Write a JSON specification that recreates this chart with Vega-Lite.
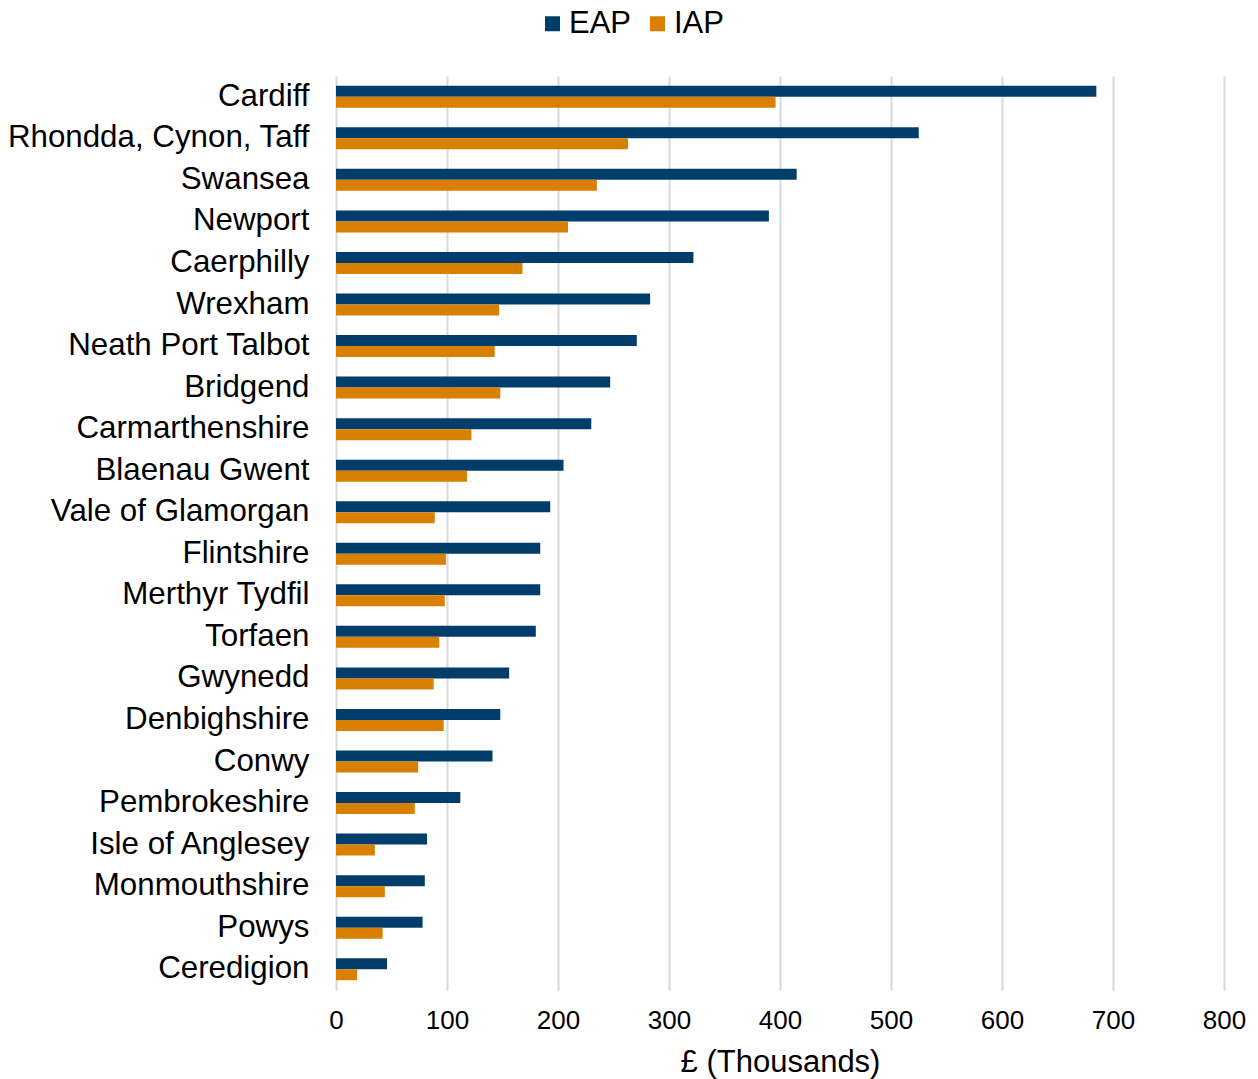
{
  "$schema": "https://vega.github.io/schema/vega-lite/v6.json",
  "width": 888,
  "height": 914,
  "autosize": {"type": "none"},
  "padding": {"left": 336, "top": 76, "right": 34, "bottom": 89},
  "background": "white",
  "config": {
    "font": "Liberation Sans",
    "view": {"stroke": null}
  },
  "data": {
    "values": [
      {"area": "Cardiff", "type": "EAP", "value": 685},
      {"area": "Cardiff", "type": "IAP", "value": 396},
      {"area": "Rhondda, Cynon, Taff", "type": "EAP", "value": 525},
      {"area": "Rhondda, Cynon, Taff", "type": "IAP", "value": 263},
      {"area": "Swansea", "type": "EAP", "value": 415},
      {"area": "Swansea", "type": "IAP", "value": 235},
      {"area": "Newport", "type": "EAP", "value": 390},
      {"area": "Newport", "type": "IAP", "value": 209},
      {"area": "Caerphilly", "type": "EAP", "value": 322},
      {"area": "Caerphilly", "type": "IAP", "value": 168},
      {"area": "Wrexham", "type": "EAP", "value": 283},
      {"area": "Wrexham", "type": "IAP", "value": 147},
      {"area": "Neath Port Talbot", "type": "EAP", "value": 271},
      {"area": "Neath Port Talbot", "type": "IAP", "value": 143},
      {"area": "Bridgend", "type": "EAP", "value": 247},
      {"area": "Bridgend", "type": "IAP", "value": 148},
      {"area": "Carmarthenshire", "type": "EAP", "value": 230},
      {"area": "Carmarthenshire", "type": "IAP", "value": 122},
      {"area": "Blaenau Gwent", "type": "EAP", "value": 205},
      {"area": "Blaenau Gwent", "type": "IAP", "value": 118},
      {"area": "Vale of Glamorgan", "type": "EAP", "value": 193},
      {"area": "Vale of Glamorgan", "type": "IAP", "value": 89},
      {"area": "Flintshire", "type": "EAP", "value": 184},
      {"area": "Flintshire", "type": "IAP", "value": 99},
      {"area": "Merthyr Tydfil", "type": "EAP", "value": 184},
      {"area": "Merthyr Tydfil", "type": "IAP", "value": 98},
      {"area": "Torfaen", "type": "EAP", "value": 180},
      {"area": "Torfaen", "type": "IAP", "value": 93},
      {"area": "Gwynedd", "type": "EAP", "value": 156},
      {"area": "Gwynedd", "type": "IAP", "value": 88},
      {"area": "Denbighshire", "type": "EAP", "value": 148},
      {"area": "Denbighshire", "type": "IAP", "value": 97},
      {"area": "Conwy", "type": "EAP", "value": 141},
      {"area": "Conwy", "type": "IAP", "value": 74},
      {"area": "Pembrokeshire", "type": "EAP", "value": 112},
      {"area": "Pembrokeshire", "type": "IAP", "value": 71},
      {"area": "Isle of Anglesey", "type": "EAP", "value": 82},
      {"area": "Isle of Anglesey", "type": "IAP", "value": 35},
      {"area": "Monmouthshire", "type": "EAP", "value": 80},
      {"area": "Monmouthshire", "type": "IAP", "value": 44},
      {"area": "Powys", "type": "EAP", "value": 78},
      {"area": "Powys", "type": "IAP", "value": 42},
      {"area": "Ceredigion", "type": "EAP", "value": 46},
      {"area": "Ceredigion", "type": "IAP", "value": 19}
    ]
  },
  "mark": {"type": "bar"},
  "encoding": {
    "y": {
      "field": "area",
      "type": "nominal",
      "sort": null,
      "scale": {"paddingInner": 0.47, "paddingOuter": 0.235},
      "axis": {
        "title": null,
        "domain": false,
        "ticks": false,
        "labelFontSize": 31.3,
        "labelColor": "#000000",
        "labelPadding": 27,
        "labelLimit": 400
      }
    },
    "yOffset": {"field": "type", "type": "nominal", "sort": ["EAP", "IAP"]},
    "x": {
      "field": "value",
      "type": "quantitative",
      "scale": {"domain": [0, 800], "nice": false},
      "axis": {
        "values": [0, 100, 200, 300, 400, 500, 600, 700, 800],
        "title": "£ (Thousands)",
        "titleFontSize": 31,
        "titleFontWeight": "normal",
        "titleColor": "#000000",
        "titlePadding": 14,
        "labelFontSize": 26,
        "labelColor": "#000000",
        "labelPadding": 17,
        "labelFlush": false,
        "domain": false,
        "ticks": false,
        "grid": true,
        "gridColor": "#d9d9d9",
        "gridWidth": 2
      }
    },
    "color": {
      "field": "type",
      "type": "nominal",
      "scale": {"domain": ["EAP", "IAP"], "range": ["#003D6B", "#D98000"]},
      "legend": {
        "title": null,
        "orient": "none",
        "direction": "horizontal",
        "legendX": 201,
        "legendY": -68,
        "symbolType": "square",
        "symbolSize": 225,
        "symbolStrokeWidth": 0,
        "labelFontSize": 31,
        "labelColor": "#000000",
        "labelOffset": 1,
        "columnPadding": 10
      }
    }
  }
}
